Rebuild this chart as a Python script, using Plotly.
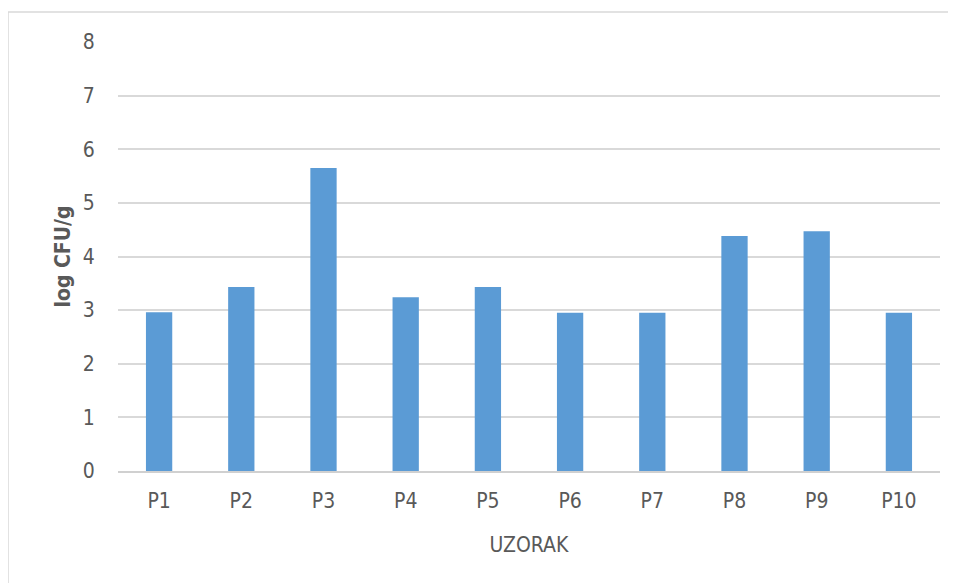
import plotly.graph_objects as go

categories = ["P1", "P2", "P3", "P4", "P5", "P6", "P7", "P8", "P9", "P10"]
values = [2.96, 3.43, 5.65, 3.24, 3.43, 2.95, 2.95, 4.38, 4.47, 2.95]
y_ticks = [0, 1, 2, 3, 4, 5, 6, 7, 8]

# page has an 8px body margin; figure coordinates = page coordinates - 8
OFF = 8
W, H = 956 - OFF, 583 - OFF
L, R, T, B = 118 - OFF, 956 - 940, 42 - OFF, 583 - 471
pw, ph = W - L - R, H - T - B

def px_x(x):
    return (x - OFF - L) / pw

def px_y(y):
    return (H - B - (y - OFF)) / ph

font_family = "Liberation Sans Narrow, DejaVu Sans Condensed, sans-serif"
grey = "#595959"

fig = go.Figure(
    go.Bar(x=categories, y=values, marker=dict(color="#5B9BD5", line=dict(width=0)), width=0.32)
)

fig.update_layout(
    width=W, height=H,
    margin=dict(l=L, r=R, t=T, b=B),
    paper_bgcolor="white", plot_bgcolor="white",
    showlegend=False,
    font=dict(family=font_family, color=grey, size=21),
    xaxis=dict(
        title=dict(text="UZORAK", font=dict(size=21, color=grey), standoff=25),
        showgrid=False, showline=True, linecolor="#d0d0d0", linewidth=1.5,
        ticks="outside", ticklen=10, tickcolor="rgba(0,0,0,0)",
        tickfont=dict(size=21, color=grey), range=[-0.5, 9.5],
    ),
    yaxis=dict(
        title=dict(text="<b>log CFU/g</b>", font=dict(size=21, color=grey), standoff=6),
        range=[0, 8], tickvals=y_ticks, showgrid=True, gridcolor="#d9d9d9", gridwidth=1.5,
        zeroline=False, showline=False,
        ticks="outside", ticklen=18, tickcolor="rgba(0,0,0,0)",
        tickfont=dict(size=21, color=grey),
    ),
    shapes=[dict(type="rect", xref="paper", yref="paper",
                 x0=px_x(8), x1=px_x(955), y0=px_y(600), y1=px_y(12),
                 line=dict(color="#d9d9d9", width=1.5), fillcolor="rgba(0,0,0,0)", layer="below")],
)

fig.write_html("out.html")
